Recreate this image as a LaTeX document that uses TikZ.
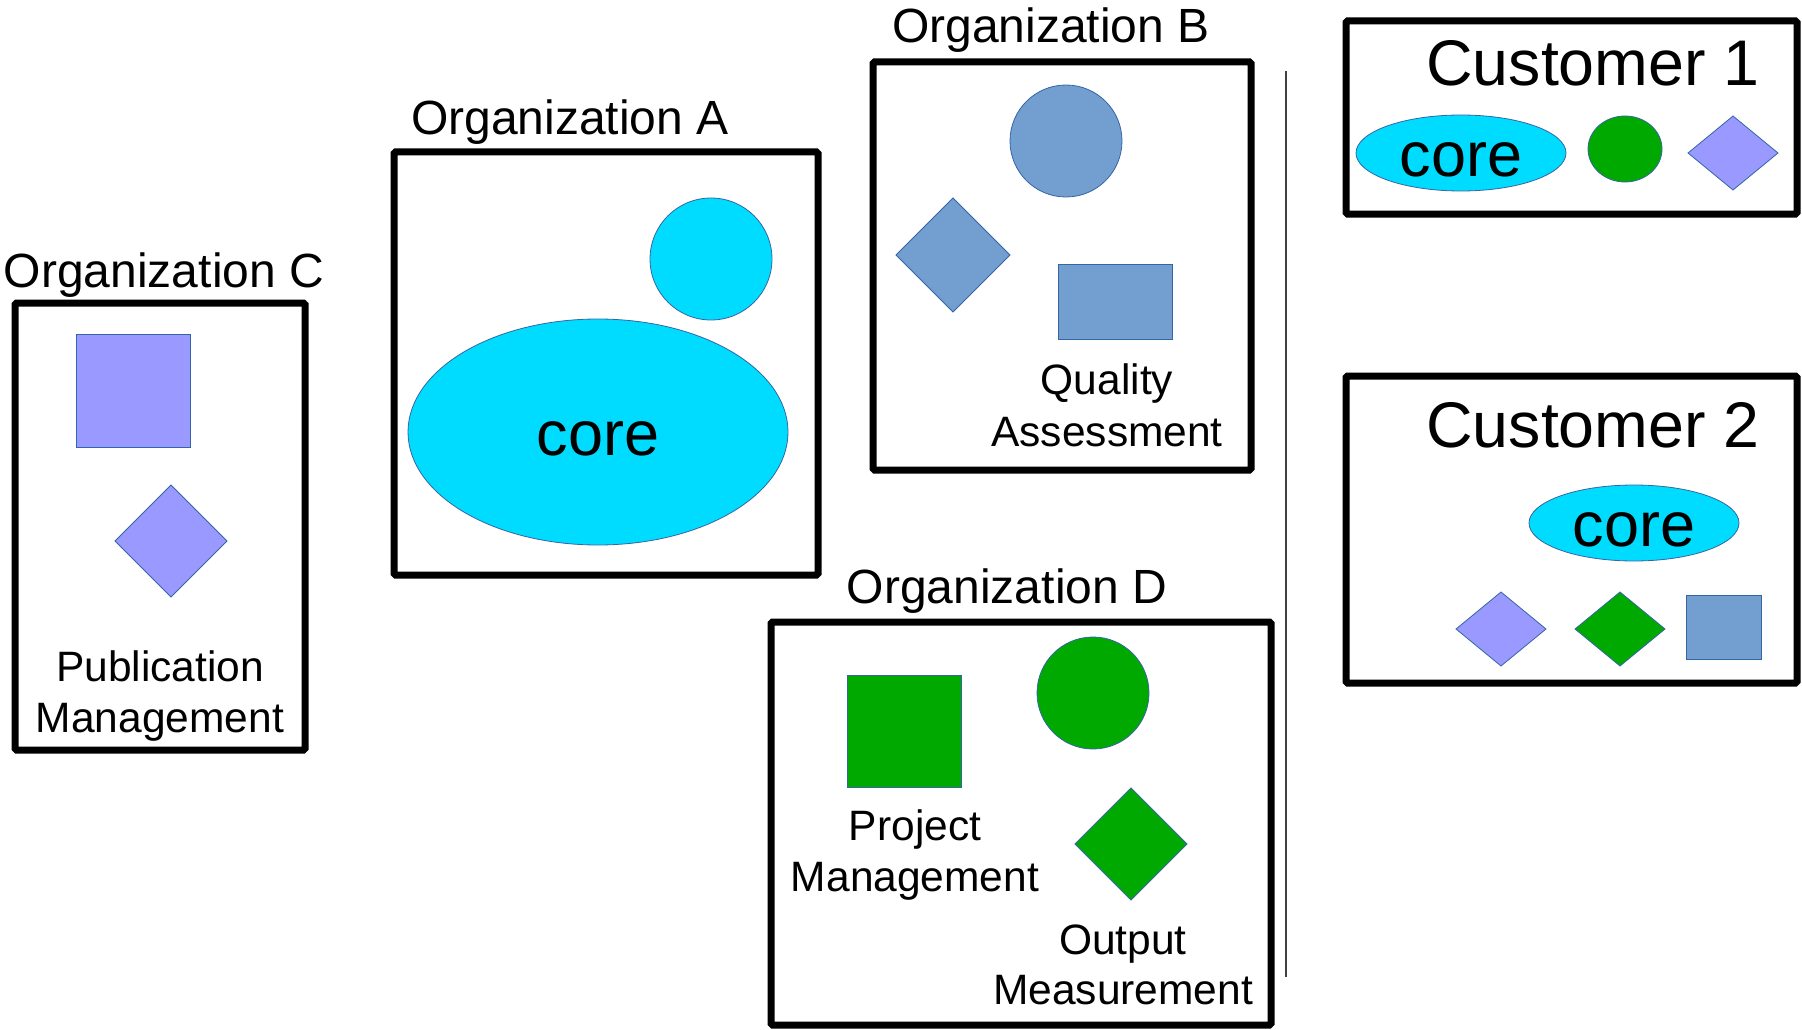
\documentclass[tikz,border=0pt]{standalone}
\usepackage{fontspec}
\setmainfont{Liberation Sans}
\usetikzlibrary{shapes.geometric}
\definecolor{cyanc}{RGB}{0,220,255}
\definecolor{purp}{RGB}{153,153,255}
\definecolor{steel}{RGB}{114,159,207}
\definecolor{greenc}{RGB}{0,169,0}
\definecolor{outl}{RGB}{52,101,164}
\tikzset{
  orgbox/.style={draw=black, line width=7pt, rounded corners=1.5pt},
  shp/.style={draw=outl, line width=0.8pt, inner sep=0pt, outer sep=0pt},
  circ/.style={shp, circle, minimum size=#1},
  ell/.style={shp, ellipse},
  dia/.style={shp, diamond},
  rct/.style={shp, rectangle},
  orglbl/.style={font=\fontsize{48}{56}\selectfont, anchor=base, inner sep=0pt},
  sublbl/.style={font=\fontsize{42.5}{50}\selectfont, anchor=base, inner sep=0pt},
  custlbl/.style={font=\fontsize{64.5}{72}\selectfont, anchor=base, inner sep=0pt},
  coretxt/.style={font=\fontsize{63}{72}\selectfont, text height=46pt, text depth=0pt},
}
\begin{document}
\begin{tikzpicture}[x=1pt, y=-1pt]
\useasboundingbox (0,0) rectangle (1802,1030);

% Organization C
\node[orglbl] (lblC) at (164,287) {Organization C};
\draw[orgbox] (15,303) rectangle (305,750);
\node[rct, fill=purp, minimum width=114pt, minimum height=113pt] (sqC) at (133,390.5) {};
\node[dia, fill=purp, minimum width=112pt, minimum height=112pt] (diaC) at (171,541) {};
\node[sublbl] (pub1) at (160,681) {Publication};
\node[sublbl] (pub2) at (160,732) {Management};

% Organization A
\node[orglbl] (lblA) at (570,135) {Organization A};
\draw[orgbox] (394,152) rectangle (818,575);
\node[circ=122pt, fill=cyanc] (cirA) at (711,259) {};
\node[ell, fill=cyanc, minimum width=380pt, minimum height=226pt, coretxt] (coreA) at (598,432) {core};

% Organization B
\node[orglbl] (lblB) at (1051,43) {Organization B};
\draw[orgbox] (873,62) rectangle (1251,470);
\node[circ=112pt, fill=steel] (cirB) at (1066,141) {};
\node[dia, fill=steel, minimum width=114pt, minimum height=114pt] (diaB) at (953,255) {};
\node[rct, fill=steel, minimum width=114pt, minimum height=75pt] (rcB) at (1115,301.5) {};
\node[sublbl] (qa1) at (1107,394) {Quality};
\node[sublbl] (qa2) at (1107,446) {Assessment};

% Organization D
\node[orglbl] (lblD) at (1007,603) {Organization D};
\draw[orgbox] (771,622) rectangle (1271,1025);
\node[rct, fill=greenc, minimum width=114pt, minimum height=112pt] (sqD) at (904,731) {};
\node[circ=112pt, fill=greenc] (cirD) at (1093,693) {};
\node[dia, fill=greenc, minimum width=112pt, minimum height=112pt] (diaD) at (1131,844) {};
\node[sublbl] (pm1) at (915,840) {Project};
\node[sublbl] (pm2) at (915,891) {Management};
\node[sublbl] (om1) at (1123,954) {Output};
\node[sublbl] (om2) at (1123,1004) {Measurement};

% separator
\coordinate (sepT) at (1286,71);
\coordinate (sepB) at (1286,977);
\draw[black!75, line width=1.5pt] (sepT) -- (sepB);

% Customer 1
\draw[orgbox] (1346,21) rectangle (1797,214);
\node[custlbl] (cu1) at (1593,86) {Customer 1};
\node[ell, fill=cyanc, minimum width=210pt, minimum height=76pt, coretxt] (core1) at (1461,153) {core};
\node[ell, fill=greenc, minimum width=74pt, minimum height=66pt] (gr1) at (1625,149) {};
\node[dia, fill=purp, minimum width=90pt, minimum height=74pt] (dia1) at (1733,153) {};

% Customer 2
\draw[orgbox] (1346,376) rectangle (1797,683);
\node[custlbl] (cu2) at (1593,447) {Customer 2};
\node[ell, fill=cyanc, minimum width=210pt, minimum height=76pt, coretxt] (core2) at (1634,523) {core};
\node[dia, fill=purp, minimum width=90pt, minimum height=74pt] (dia2a) at (1501,629) {};
\node[dia, fill=greenc, minimum width=90pt, minimum height=74pt] (dia2b) at (1620,629) {};
\node[rct, fill=steel, minimum width=75pt, minimum height=64pt] (rc2) at (1723.5,627) {};
\end{tikzpicture}
\end{document}
